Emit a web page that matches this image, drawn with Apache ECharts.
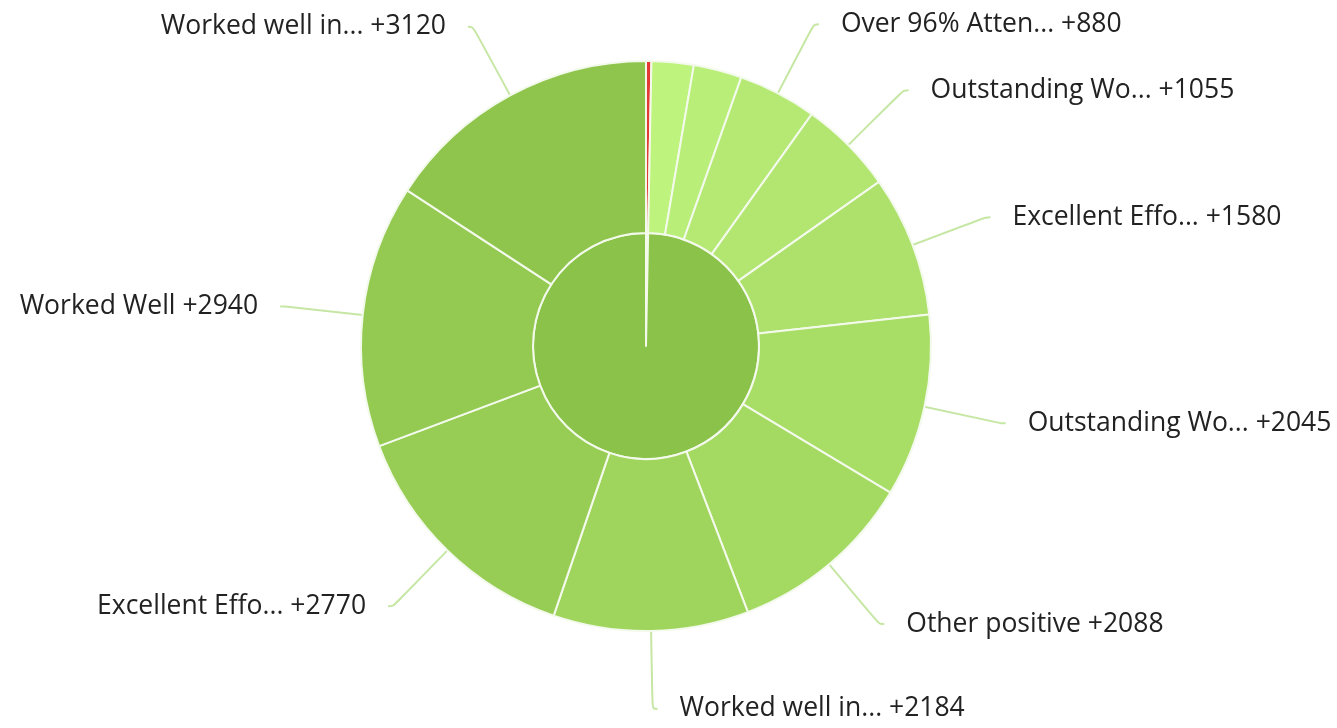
<!DOCTYPE html>
<html><head><meta charset="utf-8">
<script src="https://cdn.jsdelivr.net/npm/echarts@6/dist/echarts.min.js"></script>
<style>html,body{margin:0;padding:0;background:#fff}#c{width:1337px;height:728px}</style>
</head><body><div id="c"></div>
<script>
// Inner ring groups
const innerNames = ['Negative', 'Positive'];
const innerColors = ['#f3bcbc', '#8bc34a'];

// Outer ring segments (clockwise from 12 o'clock)
const outerNames = ['Negative', 'Helpful', 'Good Manners', 'Over 96% Atten...', 'Outstanding Wo...', 'Excellent Effo...',
  'Outstanding Wo...', 'Other positive', 'Worked well in...', 'Excellent Effo...', 'Worked Well', 'Worked well in...'];
const outerValues = [60, 470, 540, 880, 1055, 1580, 2045, 2088, 2184, 2770, 2940, 3120];
const outerGroup = [0, 1, 1, 1, 1, 1, 1, 1, 1, 1, 1, 1];
const outerColors = ['#e53935', '#bef37d', '#b9ee78', '#b5e974', '#b2e670', '#ade16b',
  '#a8dd66', '#a4d962', '#a0d55d', '#98cd55', '#94c952', '#8fc54d'];

const innerValues = innerNames.map((n, gi) =>
  outerValues.reduce((s, v, i) => s + (outerGroup[i] === gi ? v : 0), 0));

const chart = echarts.init(document.getElementById('c'), null, {renderer: 'canvas'});
const border = {borderColor: '#f3faec', borderWidth: 2};
chart.setOption({
  animation: false,
  series: [
    {
      type: 'pie',
      center: [646, 346],
      radius: [0, 113],
      startAngle: 90,
      clockwise: true,
      silent: true,
      label: {show: false},
      labelLine: {show: false},
      data: innerNames.map((n, i) => ({name: n, value: innerValues[i], itemStyle: Object.assign({color: innerColors[i]}, border)}))
    },
    {
      type: 'pie',
      center: [646, 346],
      radius: [113, 285],
      startAngle: 90,
      clockwise: true,
      silent: true,
      minShowLabelAngle: 10,
      avoidLabelOverlap: true,
      label: {
        show: true,
        position: 'outside',
        formatter: p => p.name + ' +' + p.value,
        color: '#222',
        fontFamily: 'Open Sans',
        fontSize: 26.5,
        overflow: 'none',
        distanceToLabelLine: 22
      },
      labelLine: {
        show: true,
        length: 78,
        length2: 5,
        smooth: 0.4,
        lineStyle: {color: '#c6e7a4', width: 2}
      },
      data: outerNames.map((n, i) => ({name: n, value: outerValues[i], itemStyle: Object.assign({color: outerColors[i]}, border)}))
    }
  ]
});
</script>
</body></html>
